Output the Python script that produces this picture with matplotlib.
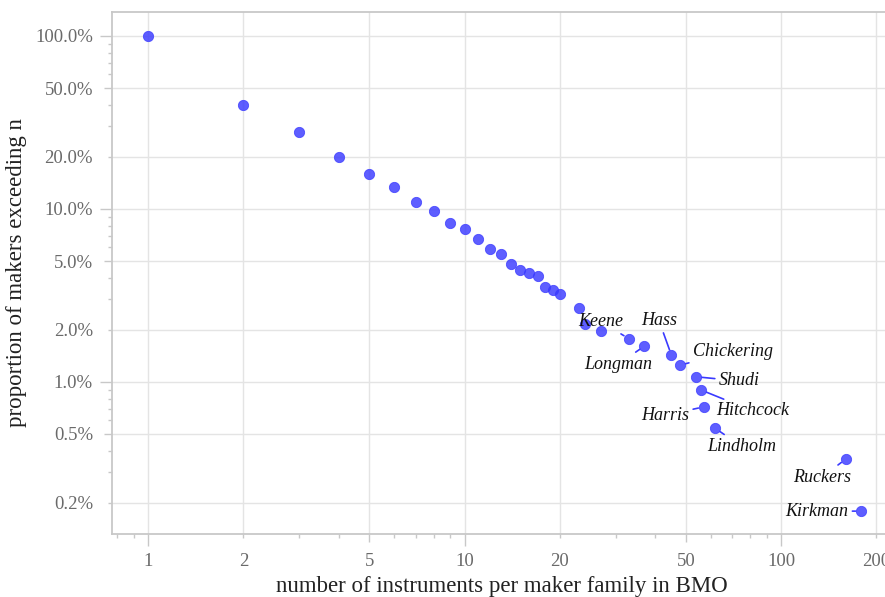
import numpy as np
import matplotlib.pyplot as plt
from matplotlib.ticker import LogLocator, FuncFormatter, NullFormatter

# instruments per maker family (n) and share of makers exceeding n
n_instruments = [1, 2, 3, 4, 5, 6, 7, 8, 9, 10, 11, 12, 13, 14, 15, 16, 17, 18,
                 19, 20, 23, 24, 27, 33, 37, 45, 48, 54, 56, 57, 62, 160, 179]
share = [1.0, 0.399, 0.279, 0.200, 0.159, 0.134, 0.110, 0.0974, 0.0830, 0.0766,
         0.0667, 0.0585, 0.0552, 0.0481, 0.0445, 0.0429, 0.0410, 0.0356,
         0.0340, 0.0322, 0.0268, 0.0215, 0.0196, 0.0178, 0.0161, 0.0143,
         0.0125, 0.0107, 0.00896, 0.00717, 0.00538, 0.00358, 0.00179]

# labelled makers: (name, n, share, text offset in points)
labels = [
    ("Keene", 33, 0.0178, (-20, 12)),
    ("Longman", 37, 0.0161, (-19, -13)),
    ("Hass", 45, 0.0143, (-9, 25)),
    ("Chickering", 48, 0.0125, (38, 10)),
    ("Shudi", 54, 0.0107, (31, -3)),
    ("Hitchcock", 56, 0.00896, (37, -15)),
    ("Harris", 57, 0.00717, (-28, -6)),
    ("Lindholm", 62, 0.00538, (19, -13)),
    ("Ruckers", 160, 0.00358, (-17, -13)),
    ("Kirkman", 179, 0.00179, (-32, 0)),
]

blue = '#3a3aff'
grid_col = '#e4e4e4'
spine_col = '#c8c8c8'
tick_col = '#6a6a6a'

plt.rcParams['font.family'] = ['Liberation Serif', 'DejaVu Serif']

fig = plt.figure(figsize=(8.85, 5.97), dpi=100)
ax = fig.add_axes([112 / 885, 63 / 597, 780 / 885, 522 / 597])

ax.set_xscale('log')
ax.set_yscale('log')
ax.set_xlim(0.769, 224)
ax.set_ylim(0.00132, 1.376)

ax.scatter(n_instruments, share, s=55, color=blue, alpha=0.82,
           edgecolors=blue, linewidths=0.6, zorder=3)

for name, x, y, off in labels:
    ax.annotate(name, xy=(x, y), xytext=off, textcoords='offset points',
                ha='center', va='center', fontsize=13, style='italic',
                color='#111111',
                arrowprops=dict(arrowstyle='-', color=blue, lw=1.2,
                                shrinkA=1, shrinkB=4),
                zorder=4)

# ticks: labels at 1-2-5, log-style tick lengths
ax.xaxis.set_major_locator(LogLocator(base=10, subs=(1, 2, 5)))
ax.xaxis.set_minor_locator(LogLocator(base=10, subs=(3, 4, 6, 7, 8, 9)))
ax.xaxis.set_major_formatter(FuncFormatter(lambda v, p: f"{v:g}"))
ax.xaxis.set_minor_formatter(NullFormatter())
ax.yaxis.set_major_locator(LogLocator(base=10, subs=(1, 2, 5)))
ax.yaxis.set_minor_locator(LogLocator(base=10, subs=(3, 4, 6, 7, 8, 9)))
ax.yaxis.set_major_formatter(FuncFormatter(lambda v, p: f"{v * 100:.1f}%"))
ax.yaxis.set_minor_formatter(NullFormatter())

ax.tick_params(which='major', length=3.2, width=1, color=spine_col,
               labelcolor=tick_col, labelsize=13.5, pad=10.5)
ax.tick_params(which='minor', length=3.2, width=1, color=spine_col)

ax.grid(which='major', color=grid_col, lw=1)
ax.set_axisbelow(True)


def tick_len(v):
    lead = round(v / 10 ** np.floor(np.log10(v) + 1e-9))
    if lead == 1:
        return 8.6
    if lead == 5:
        return 5.8
    return 3.2


for axis, vals in [(ax.xaxis, ax.get_xticks()), (ax.yaxis, ax.get_yticks())]:
    for t, v in zip(axis.get_major_ticks(), vals):
        t.tick1line.set_markersize(tick_len(v))

for side in ['left', 'top', 'bottom', 'right']:
    ax.spines[side].set_color(spine_col)
    ax.spines[side].set_linewidth(1.3)

ax.set_xlabel('number of instruments per maker family in BMO', fontsize=16.5,
              color='#222222', labelpad=4)
ax.set_ylabel('proportion of makers exceeding n', fontsize=16.5,
              color='#222222', labelpad=6)

fig.savefig('out.png', dpi=100)
